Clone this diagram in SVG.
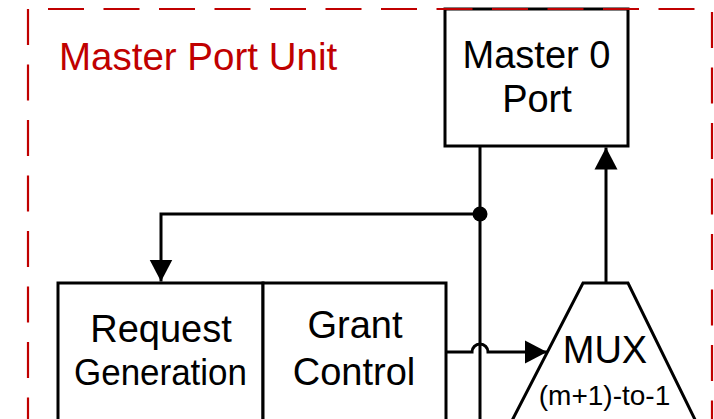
<svg xmlns="http://www.w3.org/2000/svg" width="714" height="419" viewBox="0 0 714 419">
  <style>
    .box { fill: #ffffff; stroke: #000000; stroke-width: 3; }
    .wire { fill: none; stroke: #000000; stroke-width: 3; }
    .lbl { font-family: "Liberation Sans", Arial, sans-serif; fill: #000000; text-anchor: middle; }
    .unit { fill: none; stroke: #c00000; stroke-width: 2.2; stroke-dasharray: 36 19.5; }
    .unit-title { font-family: "Liberation Sans", Arial, sans-serif; fill: #c00000; font-size: 38.5px; }
  </style>
  <defs>
    <marker id="arrow" markerUnits="userSpaceOnUse" markerWidth="24" markerHeight="24" viewBox="0 0 24 24" refX="22" refY="12" orient="auto">
      <path d="M0,0.5 L22,12 L0,23.5 Z" fill="#000000"/>
    </marker>
  </defs>

  <rect width="714" height="419" fill="#ffffff"/>

  <!-- connectors -->
  <g id="connectors">
    <!-- Master 0 port output running down through the unit -->
    <path class="wire" d="M480,146 V440"/>
    <circle cx="480" cy="214" r="7.5" fill="#000000"/>
    <!-- tap to request generation -->
    <path class="wire" d="M480,214 H161 V281.5" marker-end="url(#arrow)"/>
    <!-- grant control to MUX, hopping over the vertical wire -->
    <path class="wire" d="M446,352 H472 A8,8 0 0 1 488,352 H547" marker-end="url(#arrow)"/>
    <!-- MUX output up to Master 0 port -->
    <path class="wire" d="M606,283 V147.5" marker-end="url(#arrow)"/>
  </g>

  <g id="master0-port">
    <rect class="box" x="445" y="9" width="183" height="137"/>
    <text class="lbl" x="536.5" y="68" font-size="38" textLength="148" lengthAdjust="spacingAndGlyphs">Master 0</text>
    <text class="lbl" x="537" y="112" font-size="38">Port</text>
  </g>

  <g id="request-generation">
    <rect class="box" x="58" y="283" width="205" height="160"/>
    <text class="lbl" x="161" y="342" font-size="38">Request</text>
    <text class="lbl" x="160.5" y="385" font-size="37" textLength="173" lengthAdjust="spacingAndGlyphs">Generation</text>
  </g>

  <g id="grant-control">
    <rect class="box" x="263" y="283" width="183" height="160"/>
    <text class="lbl" x="355" y="338" font-size="38">Grant</text>
    <text class="lbl" x="354" y="385" font-size="38">Control</text>
  </g>

  <g id="mux">
    <polygon class="box" points="583,283 628,283 705,440 502,440"/>
    <text class="lbl" x="605" y="363" font-size="38">MUX</text>
    <text class="lbl" x="604.5" y="405" font-size="28">(m+1)-to-1</text>
  </g>

  <!-- dashed unit boundary, drawn over the blocks -->
  <g id="master-port-unit">
    <line class="unit" x1="48" y1="9" x2="714" y2="9"/>
    <line class="unit" x1="28" y1="9" x2="28" y2="419"/>
    <line class="unit" x1="712" y1="12" x2="712" y2="419"/>
    <line class="unit" x1="28" y1="420" x2="714" y2="420" stroke-opacity="0.5"/>
    <text class="unit-title" x="59" y="70">Master Port Unit</text>
  </g>
</svg>
